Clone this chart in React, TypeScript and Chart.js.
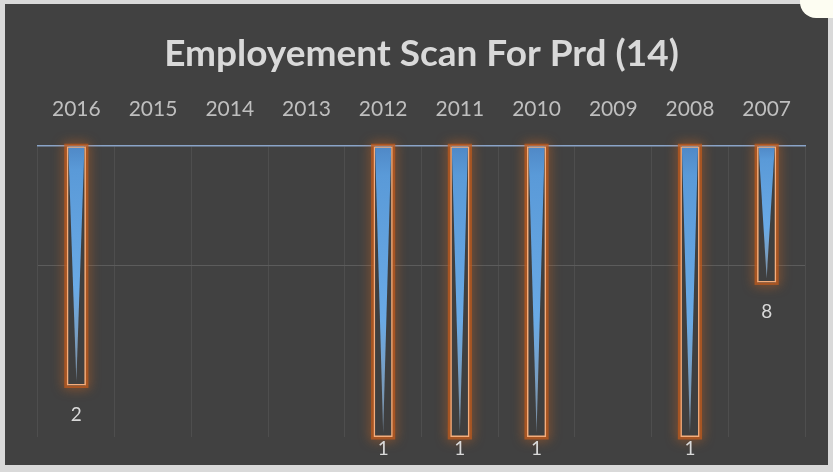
import React, { useEffect, useRef } from "react";
import { Chart, registerables } from "chart.js";

Chart.register(...registerables);

const TITLE = "Employement Scan For Prd (14)";
const categories = ["2016", "2015", "2014", "2013", "2012", "2011", "2010", "2009", "2008", "2007"];
const counts: (number | null)[] = [2, null, null, null, 1, 1, 1, null, 1, 8];
const axisMin = 1;
const axisMax = 50;
const gridValues = [10];

const FONT = "Lato, 'Open Sans', sans-serif";

const decorPlugin = {
  id: "decor",
  beforeDraw(chart: any) {
    const { ctx, width, height } = chart;
    ctx.save();
    ctx.fillStyle = "#d9d9d9";
    ctx.fillRect(0, 0, width, height);
    ctx.fillStyle = "#414141";
    ctx.fillRect(5, 4, width - 10, height - 11);
    ctx.fillStyle = "#fdfdf2";
    ctx.beginPath();
    ctx.roundRect(800, -30, 60, 48, 16);
    ctx.fill();
    ctx.restore();
  },
  beforeDatasetsDraw(chart: any) {
    const { ctx } = chart;
    const meta = chart.getDatasetMeta(0);
    ctx.save();
    meta.data.forEach((el: any, i: number) => {
      if (counts[i] == null) return;
      const top = Math.min(el.y, el.base);
      const bottom = Math.max(el.y, el.base);
      const w = el.width;
      const left = el.x - w / 2;
      ctx.save();
      ctx.shadowColor = "rgba(225,105,25,0.9)";
      ctx.shadowBlur = 12;
      ctx.strokeStyle = "rgba(190,90,30,0.75)";
      ctx.lineWidth = 5;
      ctx.strokeRect(left, top, w, bottom - top);
      ctx.restore();
      ctx.fillStyle = "#3f3f3f";
      ctx.fillRect(left + 1, top, w - 2, bottom - top);
      const g = ctx.createLinearGradient(0, top, 0, bottom);
      g.addColorStop(0, "#4f88c6");
      g.addColorStop(0.1, "#5a9ad8");
      g.addColorStop(0.6, "#6aaae6");
      g.addColorStop(1, "rgba(160,190,220,0.6)");
      ctx.fillStyle = g;
      ctx.beginPath();
      ctx.moveTo(left + 1.5, top);
      ctx.lineTo(left + w - 1.5, top);
      ctx.lineTo(el.x, bottom - 4);
      ctx.closePath();
      ctx.fill();
    });
    ctx.restore();
  },
  afterDatasetsDraw(chart: any) {
    const { ctx } = chart;
    const meta = chart.getDatasetMeta(0);
    ctx.save();
    ctx.fillStyle = "#d9d9d9";
    ctx.font = `19px ${FONT}`;
    ctx.textAlign = "center";
    ctx.textBaseline = "middle";
    meta.data.forEach((el: any, i: number) => {
      const v = counts[i];
      if (v == null) return;
      const bottom = Math.max(el.y, el.base);
      const y = Math.min(bottom + 29, chart.chartArea.bottom + 12);
      ctx.fillText(String(v), el.x, y);
    });
    ctx.restore();
  },
};

export default function App() {
  const ref = useRef<HTMLCanvasElement | null>(null);
  useEffect(() => {
    document.body.style.margin = "0";
    const canvas = ref.current!;
    const chart = new Chart(canvas, {
      type: "bar",
      data: {
        labels: categories,
        datasets: [
          {
            data: counts.map((v) => (v == null ? null : [axisMax, v])) as any,
            backgroundColor: "rgba(0,0,0,0)",
            borderColor: "#f4ad7c",
            borderWidth: 1.5,
            borderSkipped: false,
            barPercentage: 0.25,
            categoryPercentage: 1,
          },
        ],
      },
      options: {
        responsive: false,
        animation: false,
        layout: { padding: { top: 16, left: 38, right: 28, bottom: 35 } },
        plugins: {
          legend: { display: false },
          tooltip: { enabled: false },
          title: {
            display: true,
            text: TITLE,
            color: "#d9d9d9",
            font: { family: FONT, size: 37, weight: "bold", lineHeight: 1 },
            padding: { top: 20, bottom: 0 },
          },
        },
        scales: {
          x: {
            position: "top",
            ticks: { color: "#bfbfbf", font: { family: FONT, size: 21 }, padding: 24 },
            grid: { color: "#4e4e4e", drawTicks: false, offset: true },
            border: { color: "#8aa4c8", width: 1.5 },
          },
          y: {
            type: "logarithmic",
            min: axisMin,
            max: axisMax,
            ticks: { display: false },
            grid: {
              drawTicks: false,
              color: (c: any) => (c.tick && gridValues.includes(c.tick.value) ? "#5c5c5c" : "rgba(0,0,0,0)"),
            },
            border: { display: false },
          },
        },
      },
      plugins: [decorPlugin],
    });
    return () => chart.destroy();
  }, []);
  return <canvas ref={ref} width={833} height={472} style={{ display: "block" }} />;
}
